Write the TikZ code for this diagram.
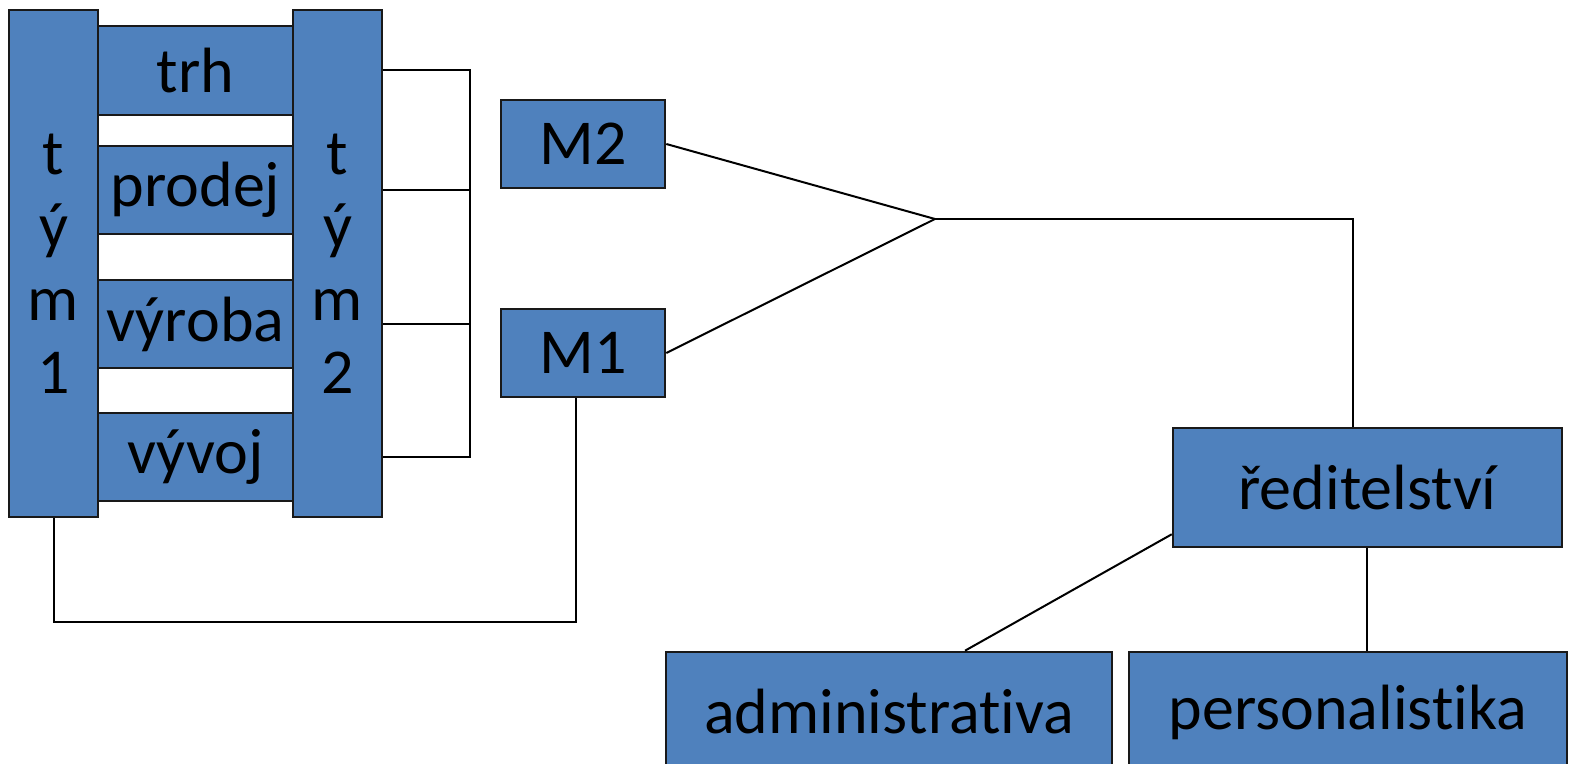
\documentclass[tikz,border=0pt]{standalone}
\usepackage{fontspec}
\setmainfont{Carlito}[Ligatures={NoCommon}]
\definecolor{boxblue}{RGB}{79,129,189}
\definecolor{boxline}{RGB}{25,25,25}
\begin{document}
\begin{tikzpicture}[x=0.5pt,y=-0.5pt,
  box/.style={draw=boxline,line width=1.3pt,fill=boxblue,inner sep=0pt,
    align=center,font=\fontsize{32}{36.5}\selectfont},
  conn/.style={draw=black,line width=1pt}]
\useasboundingbox (0,0) rectangle (1588,764);
% teams
\node[box,minimum width=44.5pt,minimum height=253.5pt] (t1) at (53.5,263.5) {t\\ý\\m\\1};
\node[box,minimum width=44.5pt,minimum height=253.5pt] (t2) at (337.5,263.5) {t\\ý\\m\\2};
% functions
\node[box,minimum width=97.5pt,minimum height=44.5pt] (trh) at (195.5,70.5) {trh};
\node[box,minimum width=97.5pt,minimum height=44pt] (prodej) at (195.5,190) {prodej};
\node[box,minimum width=97.5pt,minimum height=44pt] (vyroba) at (195.5,324) {výroba};
\node[box,minimum width=97.5pt,minimum height=44pt] (vyvoj) at (195.5,457) {vývoj};
% managers
\node[box,minimum width=82pt,minimum height=44pt] (M2) at (583,144) {M2};
\node[box,minimum width=82pt,minimum height=44pt] (M1) at (583,353) {M1};
% directorate
\node[box,minimum width=194.5pt,minimum height=59.5pt] (red) at (1367.5,487.5) {ředitelství};
\node[box,minimum width=223pt,minimum height=60pt] (adm) at (889,712) {administrativa};
\node[box,minimum width=219pt,minimum height=60pt] (pers) at (1348,712) {personalistika};
% bracket
\coordinate (bx) at (470,0);
\draw[conn] (trh.center -| t2.east) -- (trh.center -| bx) -- (vyvoj.center -| bx) -- (vyvoj.center -| t2.east);
\draw[conn] (prodej.center -| t2.east) -- (prodej.center -| bx);
\draw[conn] (vyroba.center -| t2.east) -- (vyroba.center -| bx);
% managers to directorate
\coordinate (J) at (935,219);
\draw[conn] (M2.east) -- (J);
\draw[conn] (M1.east) -- (J);
\draw[conn] (J) -| ([xshift=-7.5pt]red.north);
\draw[conn] ([yshift=7pt]red.south west) -- ([xshift=38pt]adm.north);
\draw[conn] ([xshift=-0.25pt]red.south) -- ([xshift=-0.25pt]red.south |- pers.north);
% team 1 to M1
\coordinate (L) at (576,622);
\draw[conn] (t1.south) |- (L) -- (L |- M1.south);
\end{tikzpicture}
\end{document}
